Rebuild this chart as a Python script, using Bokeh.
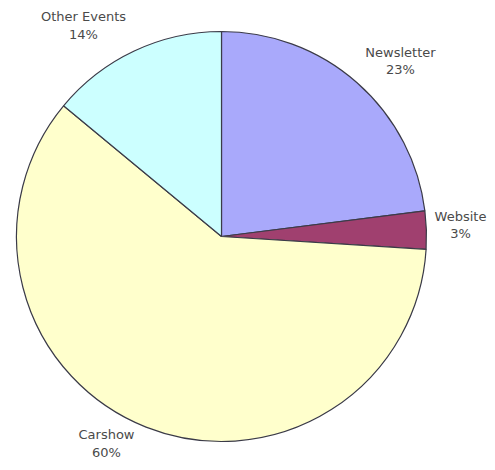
import math
from bokeh.plotting import figure
from bokeh.models import Range1d, ColumnDataSource
from bokeh.core.properties import value
from bokeh.embed import file_html
from bokeh.resources import INLINE

categories = ["Newsletter", "Website", "Carshow", "Other Events"]
shares = [23, 3, 60, 14]
colors = ["#a9a9fb", "#a0406f", "#ffffcc", "#ccffff"]
# label anchor positions (layout, in screen px from the picture's top-left)
label_x = [400, 460, 106, 83]
label_y = [60.5, 224.5, 443, 25]

W, H = 487, 462
p = figure(width=W, height=H, output_backend="svg", toolbar_location=None,
           x_range=Range1d(0, W), y_range=Range1d(0, H),
           min_border=0)
p.axis.visible = False
p.grid.visible = False
p.outline_line_color = None

total = sum(shares)
starts, ends = [], []
acc = 0.0
for s in shares:
    a0 = math.pi / 2 - 2 * math.pi * acc / total
    acc += s
    a1 = math.pi / 2 - 2 * math.pi * acc / total
    starts.append(a0)
    ends.append(a1)

cx, cy, r = 221, H - 236, 205
src = ColumnDataSource(dict(start=starts, end=ends, color=colors))
p.wedge(x=cx, y=cy, radius=r, start_angle="start", end_angle="end",
        direction="clock", fill_color="color", line_color="#3b3b48",
        line_width=1.2, source=src)

labels = [f"{c}\n{s}%" for c, s in zip(categories, shares)]
tsrc = ColumnDataSource(dict(x=label_x, y=[H - v for v in label_y], t=labels))
p.text(x="x", y="y", text="t", source=tsrc, text_align="center",
       text_baseline="middle", text_font=value("DejaVu Sans"),
       text_font_size="13px", text_color="#4a4a4a", text_line_height=1.15)

open("out.html", "w").write(file_html(p, INLINE))
